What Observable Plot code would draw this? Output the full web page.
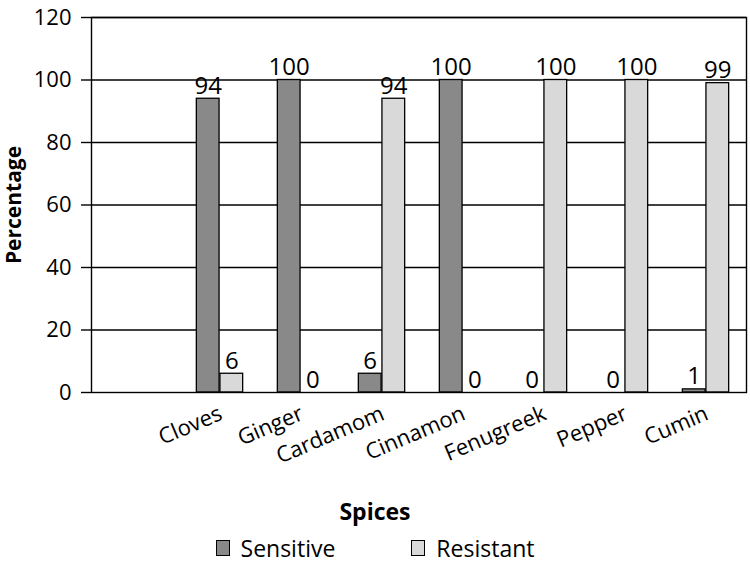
<!DOCTYPE html>
<html>
<head>
<meta charset="utf-8">
<script src="https://cdn.jsdelivr.net/npm/d3@7"></script>
<script src="https://cdn.jsdelivr.net/npm/@observablehq/plot@0.6"></script>
<style>
  body { margin: 0; background: #fff; }
  #wrap { width: 750px; font-family: "Open Sans", sans-serif; color: #000; }
  #xlabel { text-align: center; font-weight: bold; font-size: 23px; height: 38px; line-height: 38px; }
  #legend { display: flex; justify-content: center; align-items: center; gap: 76px; height: 36px; line-height: 1.15; font-size: 23px; }
  .item { display: flex; align-items: center; gap: 11px; }
  .sw { width: 12px; height: 14px; border: 1.5px solid #000; box-sizing: content-box; }
</style>
</head>
<body>
<div id="wrap">
  <div id="chart"></div>
  <div id="xlabel">Spices</div>
  <div id="legend"></div>
</div>
<script>
const spices = ["Cloves", "Ginger", "Cardamom", "Cinnamon", "Fenugreek", "Pepper", "Cumin"];
const sensitive = [94, 100, 6, 100, 0, 0, 1];
const resistant = [6, 0, 94, 0, 100, 100, 99];
const seriesNames = ["Sensitive", "Resistant"];
const seriesColors = ["#898989", "#d9d9d9"];
const yTicks = [0, 20, 40, 60, 80, 100, 120];

const rows = [];
spices.forEach((s, i) => {
  rows.push({spice: s, series: "Sensitive", value: sensitive[i]});
  rows.push({spice: s, series: "Resistant", value: resistant[i]});
});
const sens = rows.filter(d => d.series === "Sensitive");
const res = rows.filter(d => d.series === "Resistant");

const W = 750, H = 492, mL = 91, mR = 4, mT = 17, mB = 100;
const domain = ["", ...spices];
const step = (W - mL - mR) / domain.length;
const barW = 23.6;
const font = "Open Sans";

const chart = Plot.plot({
  width: W, height: H,
  marginLeft: mL, marginRight: mR, marginTop: mT, marginBottom: mB,
  style: {fontFamily: font, color: "#000", background: "#fff", overflow: "visible"},
  x: {type: "band", domain, padding: 0, range: [mL + 3, W - mR + 3]},
  y: {domain: [0, 120]},
  marks: [
    Plot.ruleY(yTicks.filter(t => t > 0), {stroke: "#000", strokeWidth: 1.4}),
    Plot.barY(sens, {x: "spice", y: "value", fill: seriesColors[0], stroke: "#000", strokeWidth: 1.3,
      insetLeft: step / 2 - barW, insetRight: step / 2}),
    Plot.barY(res, {x: "spice", y: "value", fill: seriesColors[1], stroke: "#000", strokeWidth: 1.3,
      insetLeft: step / 2, insetRight: step / 2 - barW}),
    Plot.text(sens, {x: "spice", y: "value", text: d => String(d.value), dx: -barW / 2, dy: -5,
      lineAnchor: "bottom", fontSize: 24, fill: "#000"}),
    Plot.text(res, {x: "spice", y: "value", text: d => String(d.value), dx: barW / 2, dy: -5,
      lineAnchor: "bottom", fontSize: 24, fill: "#000"}),
    Plot.frame({stroke: "#000", strokeWidth: 1.4}),
    Plot.axisY({ticks: yTicks, tickSize: 10, tickPadding: 10, fontSize: 22, label: null, stroke: "#000", strokeWidth: 1.4}),
    Plot.axisX({tickSize: 0, tickRotate: -23, tickPadding: 20, fontSize: 22, label: null, tickFormat: d => d, dx: 1}),
    Plot.text(["Percentage"], {frameAnchor: "left", textAnchor: "middle", rotate: -90, dx: -77, fontWeight: "bold", fontSize: 21, fill: "#000"})
  ]
});
document.getElementById("chart").appendChild(chart);

const legend = document.getElementById("legend");
seriesNames.forEach((n, i) => {
  const it = document.createElement("div");
  it.className = "item";
  const sw = document.createElement("div");
  sw.className = "sw";
  sw.style.background = seriesColors[i];
  const t = document.createElement("span");
  t.textContent = n;
  it.appendChild(sw);
  it.appendChild(t);
  legend.appendChild(it);
});
</script>
</body>
</html>
